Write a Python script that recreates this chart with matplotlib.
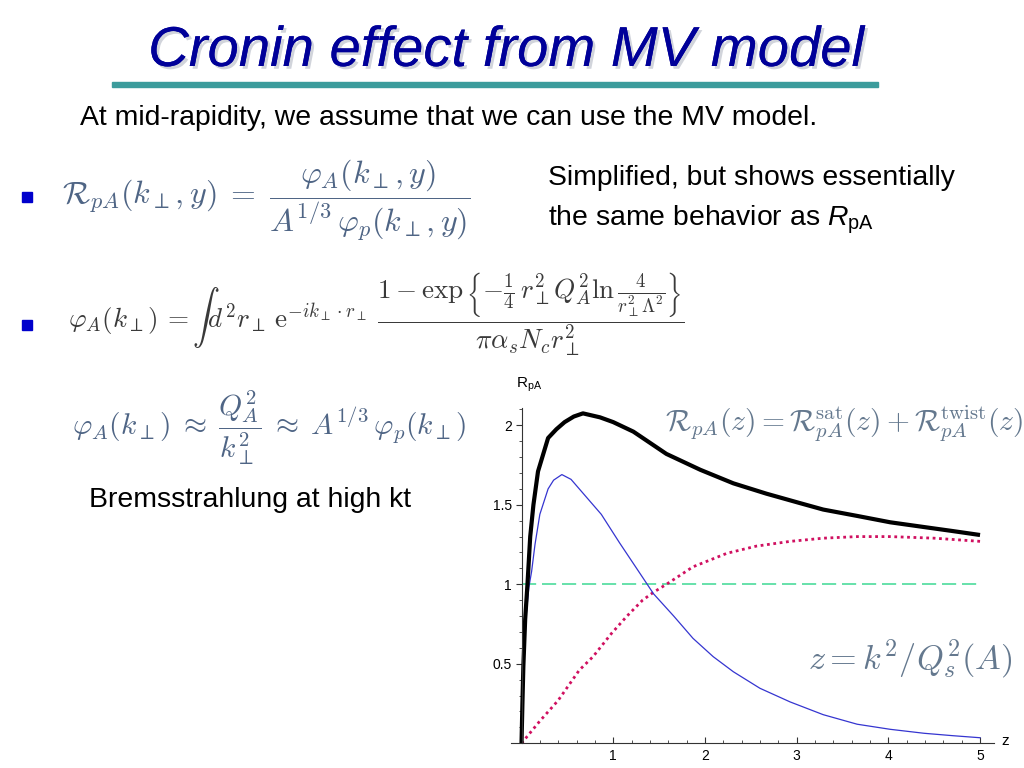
import matplotlib
matplotlib.use("Agg")
import matplotlib.pyplot as plt
import matplotlib.patheffects as pe
from matplotlib.ticker import MultipleLocator, FixedLocator

plt.rcParams['font.family'] = ['Liberation Sans', 'DejaVu Sans']
plt.rcParams['mathtext.fontset'] = 'custom'
plt.rcParams['mathtext.rm'] = 'Liberation Sans'
plt.rcParams['mathtext.it'] = 'Liberation Sans:italic'
plt.rcParams['mathtext.bf'] = 'Liberation Sans:bold'

# curves
z_total = [0, 0.01, 0.02, 0.04, 0.065, 0.095, 0.13, 0.18, 0.29, 0.38, 0.47, 0.57, 0.67, 0.856,
           1.0, 1.22, 1.58, 1.95, 2.31, 2.67, 3.04, 3.29, 3.66, 4.02, 4.39, 4.7, 5.0]
r_total = [0, 0.25, 0.48, 0.78, 1.0, 1.30, 1.50, 1.71, 1.92, 1.975, 2.02, 2.055, 2.075, 2.05,
           2.02, 1.96, 1.82, 1.72, 1.635, 1.57, 1.51, 1.47, 1.43, 1.39, 1.36, 1.335, 1.31]

z_sat = [0, 0.02, 0.05, 0.08, 0.11, 0.147, 0.2, 0.29, 0.35, 0.44, 0.54, 0.66, 0.87, 1.07,
         1.29, 1.44, 1.66, 1.87, 2.09, 2.31, 2.6, 2.93, 3.29, 3.66, 4.02, 4.39, 4.7, 5.0]
r_sat = [0, 0.40, 0.80, 0.98, 1.08, 1.25, 1.44, 1.60, 1.655, 1.69, 1.66, 1.58, 1.44, 1.26,
         1.07, 0.94, 0.80, 0.66, 0.545, 0.45, 0.346, 0.26, 0.18, 0.12, 0.088, 0.063, 0.048, 0.035]

z_twist = [0, 0.2, 0.4, 0.63, 0.78, 0.98, 1.15, 1.32, 1.44, 1.58, 1.87, 2.24, 2.56, 2.93,
           3.29, 3.66, 4.02, 4.5, 5.0]
r_twist = [0, 0.14, 0.27, 0.46, 0.545, 0.69, 0.80, 0.90, 0.95, 1.0, 1.11, 1.195, 1.24, 1.27,
           1.29, 1.30, 1.30, 1.29, 1.27]

z_ref = [0, 5]
r_ref = [1, 1]

W, H = 1024, 768
fig = plt.figure(figsize=(10.24, 7.68), dpi=100)


def fx(x):
    return x / W


def fy(y):
    return 1 - y / H


# title with shadow
fig.text(fx(506), fy(52), 'Cronin effect from MV model', fontsize=40.5, style='italic',
         color='#000099', ha='center', va='center',
         path_effects=[pe.withSimplePatchShadow(offset=(2, -2), shadow_rgbFace='#9aa0b0', alpha=0.45),
                       pe.Normal()])
fig.add_artist(plt.Rectangle((fx(112), fy(86.5)), fx(878) - fx(112), 5 / H, color='#3c9c9c',
                             transform=fig.transFigure))

fig.text(fx(80), fy(118), 'At mid-rapidity, we assume that we can use the MV model.',
         fontsize=20.4, ha='left', va='center')

# bullets
for by in (197, 325):
    fig.add_artist(plt.Rectangle((fx(22), fy(by + 5)), 10 / W, 10 / H, color='#0000cc',
                                 transform=fig.transFigure))

fcol = '#4f6585'
fig.text(fx(62), fy(200), r'$\mathcal{R}_{pA}(k_\perp,y)\;=\;\dfrac{\varphi_A(k_\perp,y)}{A^{1/3}\,\varphi_p(k_\perp,y)}$',
         fontsize=23, color=fcol, ha='left', va='center', math_fontfamily='cm')

fig.text(fx(548), fy(178), 'Simplified, but shows essentially', fontsize=20.4, ha='left', va='center')
fig.text(fx(548), fy(220), r'the same behavior as $\mathit{R}_{\mathrm{pA}}$', fontsize=20.4,
         ha='left', va='center')

fig.text(fx(68), fy(314),
         r'$\varphi_A(k_\perp)\,=\int d^2r_\perp\,\mathrm{e}^{-ik_\perp\cdot r_\perp}\;'
         r'\dfrac{1-\exp\left\{-\frac{1}{4}\,r_\perp^2Q_A^2\ln\frac{4}{r_\perp^2\Lambda^2}\right\}}{\pi\alpha_sN_cr_\perp^2}$',
         fontsize=19.5, color='#3a3a3a', ha='left', va='center', math_fontfamily='cm')

fig.text(fx(72), fy(428), r'$\varphi_A(k_\perp)\;\approx\;\dfrac{Q_A^2}{k_\perp^2}\;\approx\;A^{1/3}\,\varphi_p(k_\perp)$',
         fontsize=21.3, color=fcol, ha='left', va='center', math_fontfamily='cm')

fig.text(fx(89), fy(500), 'Bremsstrahlung at high kt', fontsize=20.4, ha='left', va='center')

# chart
ax = fig.add_axes([510.5 / W, (H - 743.3) / H, 483.3 / W, 335.5 / H])
ax.set_xlim(-0.12, 5.15)
ax.set_ylim(0, 2.11)
ax.plot(z_ref, r_ref, color='#4ddc9c', lw=1.2, linestyle=(0, (8.5, 3.5)))
ax.plot(z_twist, r_twist, color='#d01060', lw=2.0, linestyle=(0, (1, 1.3)))
ax.plot(z_sat, r_sat, color='#3535d0', lw=0.9)
ax.plot(z_total, r_total, color='black', lw=3.0, solid_capstyle='butt', solid_joinstyle='round')

for s in ('top', 'right'):
    ax.spines[s].set_visible(False)
ax.spines['left'].set_position(('data', 0))
ax.spines['bottom'].set_position(('data', 0))
ax.spines['left'].set_color('#333333')
ax.spines['bottom'].set_color('#333333')
ax.spines['left'].set_linewidth(0.8)
ax.spines['bottom'].set_linewidth(0.8)

ax.xaxis.set_major_locator(FixedLocator([1, 2, 3, 4, 5]))
ax.xaxis.set_minor_locator(MultipleLocator(0.2))
ax.yaxis.set_major_locator(FixedLocator([0.5, 1, 1.5, 2]))
ax.yaxis.set_minor_locator(MultipleLocator(0.1))
ax.set_xticklabels(['1', '2', '3', '4', '5'])
ax.set_yticklabels(['0.5', '1', '1.5', '2'])
ax.tick_params(axis='x', which='both', direction='in', labelsize=10, pad=4, color='#333333')
ax.tick_params(axis='x', which='major', length=4)
ax.tick_params(axis='x', which='minor', length=2.5)
ax.tick_params(axis='y', which='both', direction='out', labelsize=10, pad=3, color='#333333')
ax.tick_params(axis='y', which='major', length=4)
ax.tick_params(axis='y', which='minor', length=2.5)
ax.patch.set_alpha(0)

fig.text(fx(516), fy(385), r'$\mathrm{R}_{\mathrm{pA}}$', fontsize=11, ha='left', va='center')
fig.text(fx(1001), fy(741), 'z', fontsize=11, ha='left', va='center')

ccol = '#64788e'
fig.text(fx(665), fy(424), r'$\mathcal{R}_{pA}(z)=\mathcal{R}_{pA}^{\mathrm{sat}}(z)+\mathcal{R}_{pA}^{\mathrm{twist}}(z)$',
         fontsize=21.3, color=ccol, ha='left', va='center', math_fontfamily='cm')
fig.text(fx(808), fy(660), r'$z=k^2/Q_s^2(A)$', fontsize=24.7, color=ccol, ha='left', va='center',
         math_fontfamily='cm')

fig.savefig('out.png', dpi=100)
